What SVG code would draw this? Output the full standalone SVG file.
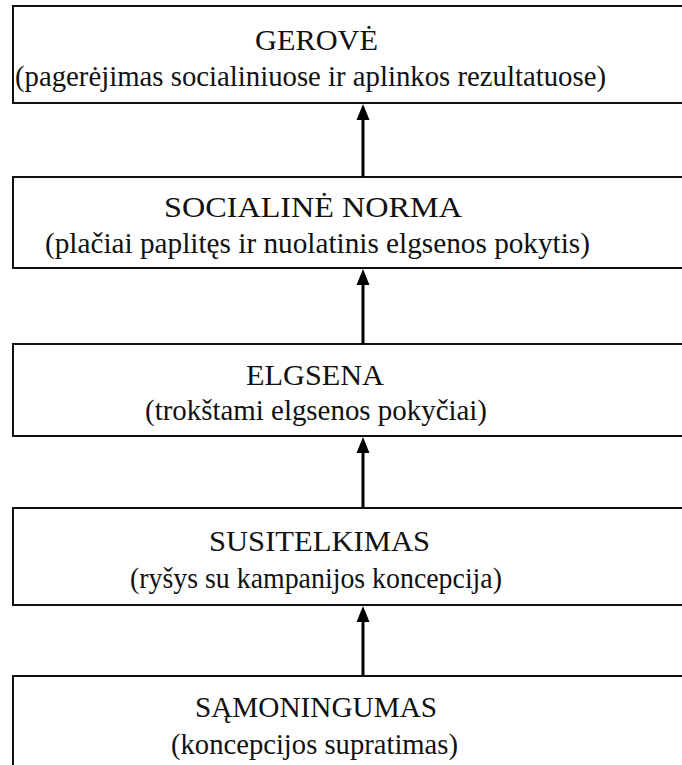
<svg xmlns="http://www.w3.org/2000/svg" width="682" height="765" viewBox="0 0 682 765">
<style>
.box{fill:#fff;stroke:#111;stroke-width:2}
.t{font-family:"Liberation Serif","Times New Roman",serif;font-size:29px;fill:#111}
.c{stroke:#000;stroke-width:3;fill:none}
.h{fill:#000}
</style>
<rect width="682" height="765" fill="#fff"/>
<g id="n1">
<rect class="box" x="13" y="6" width="690" height="97"/>
<text class="t" x="255" y="50" textLength="123" lengthAdjust="spacingAndGlyphs">GEROVĖ</text>
<text class="t" x="15" y="86" textLength="591" lengthAdjust="spacingAndGlyphs">(pagerėjimas socialiniuose ir aplinkos rezultatuose)</text>
</g>
<g id="n2">
<rect class="box" x="13" y="177" width="690" height="91"/>
<text class="t" x="164" y="217" textLength="298" lengthAdjust="spacingAndGlyphs">SOCIALINĖ NORMA</text>
<text class="t" x="45" y="253" textLength="545" lengthAdjust="spacingAndGlyphs">(plačiai paplitęs ir nuolatinis elgsenos pokytis)</text>
</g>
<g id="n3">
<rect class="box" x="13" y="344" width="690" height="92"/>
<text class="t" x="246" y="385" textLength="138" lengthAdjust="spacingAndGlyphs">ELGSENA</text>
<text class="t" x="145" y="420" textLength="342" lengthAdjust="spacingAndGlyphs">(trokštami elgsenos pokyčiai)</text>
</g>
<g id="n4">
<rect class="box" x="13" y="508" width="690" height="97"/>
<text class="t" x="209" y="551" textLength="221" lengthAdjust="spacingAndGlyphs">SUSITELKIMAS</text>
<text class="t" x="130" y="588" textLength="372" lengthAdjust="spacingAndGlyphs">(ryšys su kampanijos koncepcija)</text>
</g>
<g id="n5">
<rect class="box" x="13" y="676" width="690" height="100"/>
<text class="t" x="195" y="717" textLength="242" lengthAdjust="spacingAndGlyphs">SĄMONINGUMAS</text>
<text class="t" x="171" y="754" textLength="287" lengthAdjust="spacingAndGlyphs">(koncepcijos supratimas)</text>
</g>
<g id="connectors">
<line class="c" x1="363" y1="177" x2="363" y2="112"/>
<path class="h" d="M363 104 L356.5 120 L369.5 120 Z"/>
<line class="c" x1="363" y1="344" x2="363" y2="277"/>
<path class="h" d="M363 269 L356.5 285 L369.5 285 Z"/>
<line class="c" x1="363" y1="508" x2="363" y2="445"/>
<path class="h" d="M363 437 L356.5 453 L369.5 453 Z"/>
<line class="c" x1="363" y1="676" x2="363" y2="614"/>
<path class="h" d="M363 606 L356.5 622 L369.5 622 Z"/>
</g>
</svg>
